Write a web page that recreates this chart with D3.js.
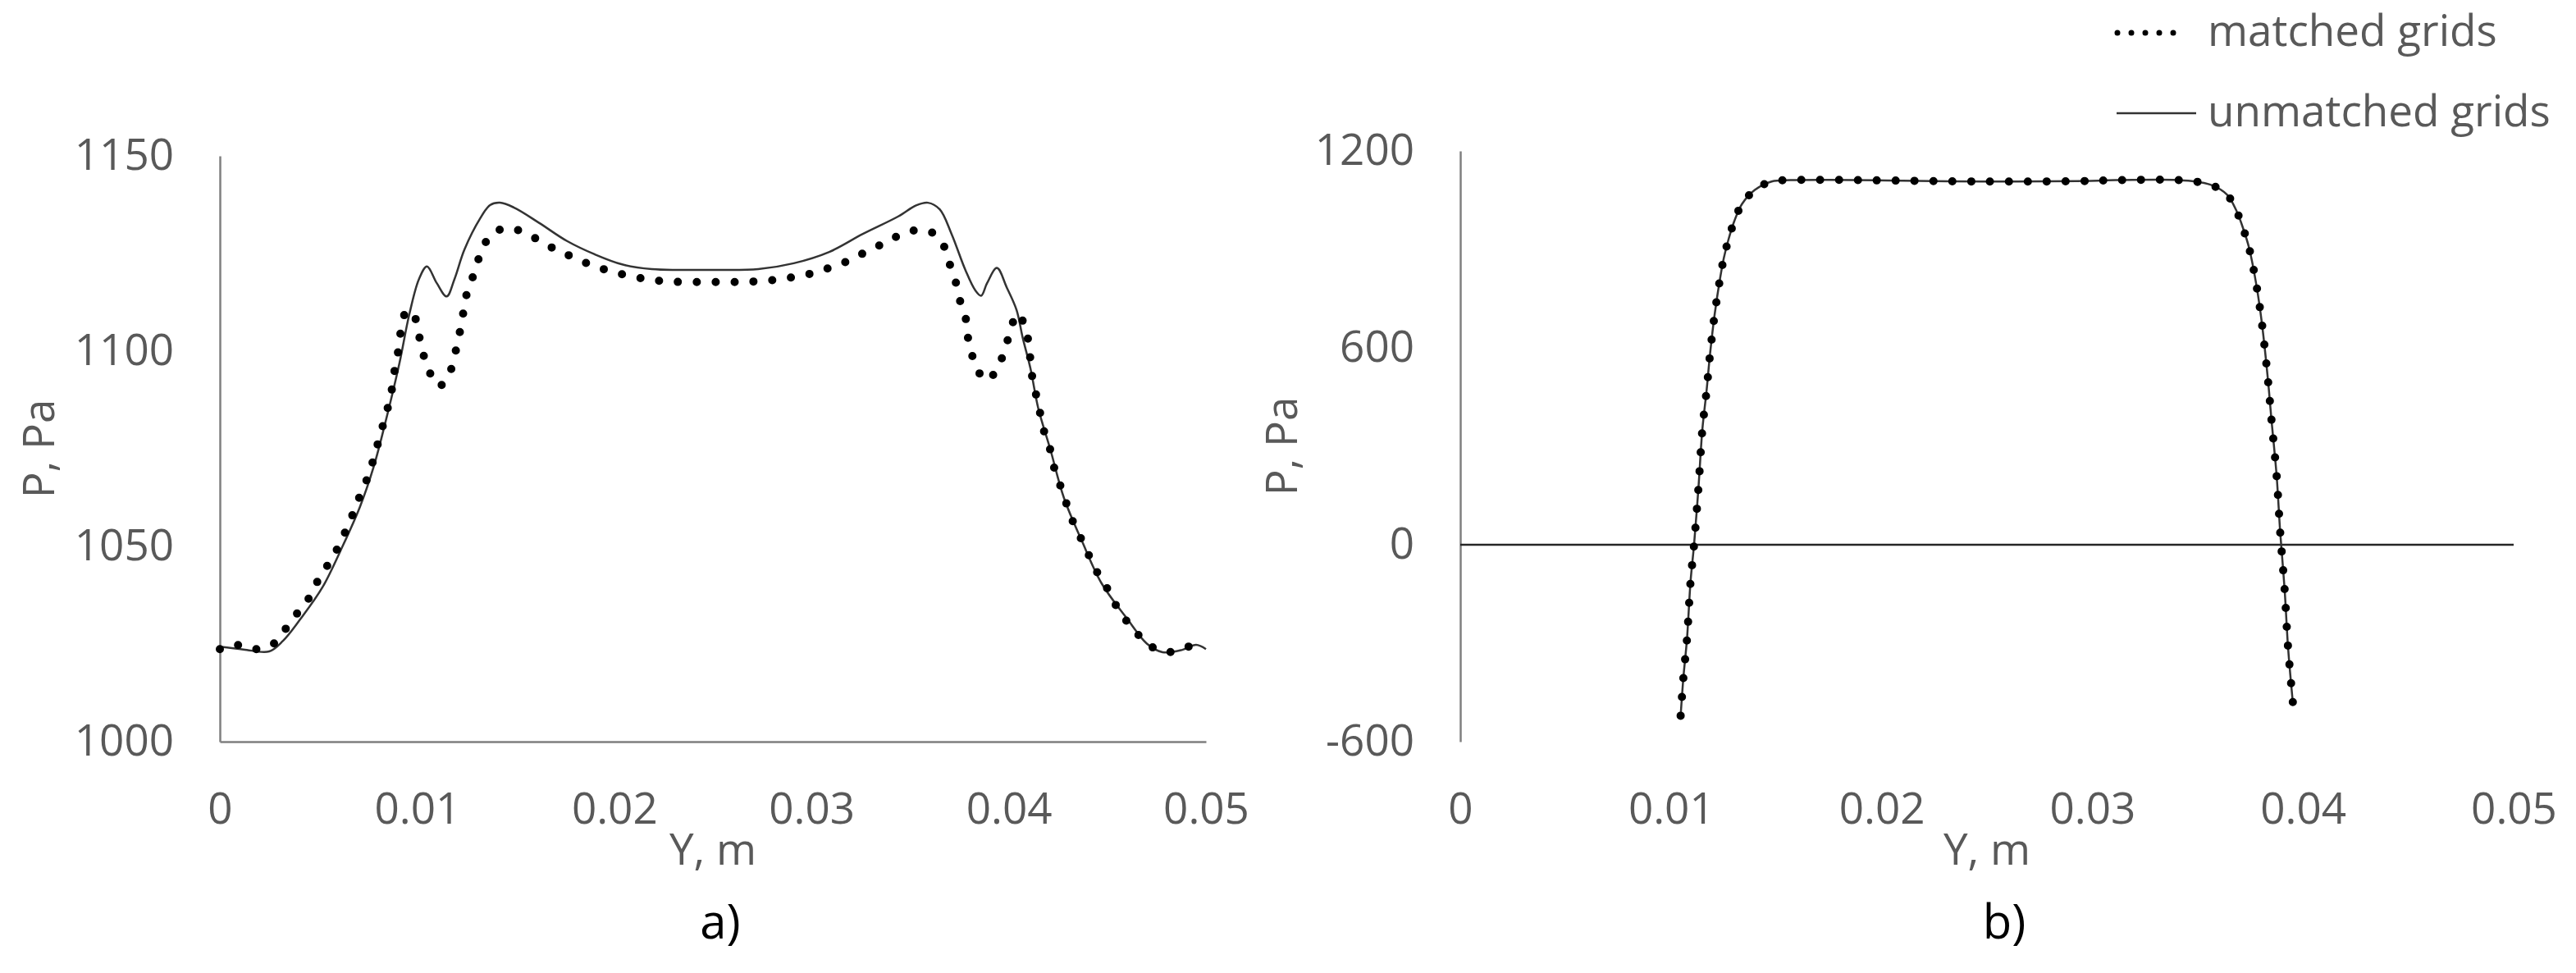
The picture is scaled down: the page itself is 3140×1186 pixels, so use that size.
<!DOCTYPE html>
<html lang="en">
<head>
    <meta charset="UTF-8">
    <title>Pressure profiles, matched vs unmatched grids</title>
    <script src="https://d3js.org/d3.v7.min.js"></script>
    <style>
        body { margin: 0; background: #fff; }
        text { font-family: "Open Sans", sans-serif; }
        .tick text, .ttl { fill: #595959; font-size: 53px; }
        .cap { fill: #000; font-size: 58px; }
    </style>
</head>
<body>
    <div id="chart"></div>

    <script>
        // chart a) - matched grids (dotted)
        const aMatchedY = [0, 0.0008, 0.0017, 0.0026, 0.0032, 0.0038, 0.0044, 0.0048, 0.0053, 0.0058,
            0.0062, 0.0066, 0.0069, 0.0073, 0.0076, 0.0079, 0.0081, 0.0084, 0.0086, 0.0088,
            0.0089, 0.0091, 0.0092, 0.0095, 0.0099, 0.0101, 0.0103, 0.0106, 0.0111, 0.0116,
            0.0119, 0.0121, 0.0123, 0.0124, 0.0127, 0.0130, 0.0133, 0.0138, 0.0146, 0.0155,
            0.0164, 0.0172, 0.0180, 0.0189, 0.0198, 0.0207, 0.0216, 0.0225, 0.0235, 0.0250,
            0.0263, 0.0273, 0.0282, 0.0291, 0.0300, 0.0309, 0.0318, 0.0326, 0.0335, 0.0343,
            0.0352, 0.0361, 0.0367, 0.0370, 0.0373, 0.0375, 0.0378, 0.0379, 0.0381, 0.0384,
            0.0389, 0.0395, 0.0398, 0.0401, 0.0404, 0.0408, 0.0410, 0.0411, 0.0412, 0.0414,
            0.0416, 0.0418, 0.0421, 0.0423, 0.0426, 0.0429, 0.0432, 0.0436, 0.0440, 0.0444,
            0.0449, 0.0453, 0.0458, 0.0464, 0.0471, 0.0479, 0.0488, 0.0497];
        const aMatchedP = [1023.7, 1024.8, 1023.7, 1024.6, 1028.0, 1032.1, 1035.8, 1039.7, 1043.9, 1047.9,
            1052.1, 1056.3, 1060.7, 1065.0, 1069.5, 1073.9, 1078.4, 1083.0, 1087.6, 1092.2,
            1096.8, 1101.3, 1106.1, 1110.5, 1108.5, 1104.0, 1099.5, 1095.0, 1091.0, 1093.8,
            1098.8, 1103.4, 1108.0, 1112.6, 1117.1, 1121.7, 1126.1, 1130.0, 1131.5, 1130.2,
            1127.7, 1125.6, 1123.9, 1121.9, 1120.5, 1119.3, 1118.5, 1117.9, 1117.7, 1117.7,
            1117.7, 1117.9, 1118.3, 1119.0, 1119.9, 1121.3, 1123.0, 1125.0, 1127.2, 1129.3,
            1130.9, 1130.4, 1127.0, 1122.4, 1117.9, 1113.4, 1108.9, 1104.4, 1099.8, 1095.3,
            1092.5, 1096.4, 1100.6, 1105.2, 1109.6, 1106.8, 1102.3, 1097.7, 1093.1, 1088.5,
            1083.9, 1079.3, 1074.8, 1070.2, 1065.8, 1061.3, 1057.0, 1052.7, 1048.4, 1044.1,
            1040.1, 1036.1, 1032.1, 1028.3, 1024.8, 1022.9, 1023.8, 1025.5];

        // chart a) - unmatched grids (solid)
        const aUnmatchedY = [0, 0.0012, 0.0025, 0.0032, 0.0041, 0.0052, 0.0062, 0.0071, 0.0078, 0.0084,
            0.0091, 0.0096, 0.0101, 0.0105, 0.0110, 0.0115, 0.0119, 0.0124, 0.0132, 0.0137,
            0.0142, 0.0149, 0.0162, 0.0176, 0.0190, 0.0204, 0.0219, 0.0233, 0.0250, 0.0273,
            0.0291, 0.0309, 0.0326, 0.0344, 0.0353, 0.0359, 0.0365, 0.0371, 0.0378, 0.0383,
            0.0386, 0.0389, 0.0394, 0.0399, 0.0404, 0.0407, 0.0411, 0.0415, 0.0421, 0.0428,
            0.0437, 0.0447, 0.0460, 0.0470, 0.0478, 0.0488, 0.0495, 0.0500];
        const aUnmatchedP = [1024.3, 1023.6, 1023.1, 1025.8, 1031.5, 1039.5, 1049.8, 1060.1, 1070.4, 1081.9,
            1096.8, 1109.3, 1118.5, 1121.7, 1117.4, 1114.0, 1118.5, 1126.0, 1134.0, 1137.4,
            1138.0, 1136.8, 1132.8, 1128.2, 1124.8, 1122.2, 1121.0, 1120.8, 1120.8, 1121.0,
            1122.5, 1125.4, 1130.0, 1134.5, 1137.3, 1138.0, 1136.3, 1130.0, 1120.8, 1115.6,
            1114.2, 1117.4, 1121.3, 1116.3, 1110.5, 1103.6, 1095.6, 1085.3, 1075.0, 1062.4,
            1051.5, 1040.6, 1031.5, 1025.1, 1022.9, 1023.5, 1024.8, 1023.7];

        // chart b) - both grids give the same curve
        const bY = [0.01046, 0.01059, 0.01076, 0.01093, 0.0111, 0.01131, 0.01149, 0.01169, 0.01186, 0.01207,
            0.01234, 0.01251, 0.01273, 0.0130, 0.01337, 0.01398, 0.01478, 0.01568, 0.01754, 0.02025,
            0.0248, 0.02929, 0.03111, 0.03383, 0.03474, 0.03561, 0.03639, 0.03686, 0.03718, 0.03744,
            0.03779, 0.03805, 0.03834, 0.0385, 0.03875, 0.03892, 0.03913, 0.03929, 0.03953];
        const bP = [-521, -405, -288, -112, 3, 178, 351, 469, 584, 700,
            815, 874, 930, 985, 1038, 1081, 1107, 1111, 1112, 1110,
            1107, 1108, 1111, 1112, 1108, 1097, 1067, 1015, 960, 905,
            791, 675, 501, 384, 210, 37, -137, -311, -488];

        const xTicks = [0, 0.01, 0.02, 0.03, 0.04, 0.05];
        const aYTicks = [1000, 1050, 1100, 1150];
        const bYTicks = [-600, 0, 600, 1200];
        const legendNames = ["matched grids", "unmatched grids"];

        const W = 3140, H = 1186;
        const svg = d3.select("#chart").append("svg")
            .attr("width", W)
            .attr("height", H)
            .style("background", "#fff");

        const axisColor = "#7f7f7f";
        const lineColor = "#333";
        const fmt = d3.format("~g");
        const plain = d => String(d);   // no thousands comma, plain hyphen minus
        const curve = d3.curveCatmullRom.alpha(0.5);

        function zip(xs, ys) { return xs.map((x, i) => [x, ys[i]]); }

        function dotted(g, pts, x, y) {
            g.append("path")
                .datum(pts)
                .attr("fill", "none")
                .attr("stroke", "#000")
                .attr("stroke-width", 10)
                .attr("stroke-linecap", "round")
                .attr("stroke-dasharray", "0 23")
                .attr("d", d3.line().x(d => x(d[0])).y(d => y(d[1])).curve(curve));
        }

        function solid(g, pts, x, y) {
            g.append("path")
                .datum(pts)
                .attr("fill", "none")
                .attr("stroke", lineColor)
                .attr("stroke-width", 2.5)
                .attr("d", d3.line().x(d => x(d[0])).y(d => y(d[1])).curve(curve));
        }

        function styleAxis(g) {
            g.select(".domain").attr("stroke", axisColor).attr("stroke-width", 2.5);
            g.selectAll(".tick line").remove();
            g.selectAll(".tick text").attr("font-family", null).attr("font-size", null);
        }

        // ---------- chart a ----------
        const ax = d3.scaleLinear().domain([0, 0.05]).range([268, 1470]);
        const ay = d3.scaleLinear().domain([1000, 1150]).range([904, 190]);

        svg.append("g")
            .attr("transform", "translate(0," + ay(1000) + ")")
            .call(d3.axisBottom(ax).tickValues(xTicks).tickFormat(fmt).tickSize(0).tickPadding(62))
            .call(styleAxis);
        svg.append("g")
            .attr("transform", "translate(" + ax(0) + ",0)")
            .call(d3.axisLeft(ay).tickValues(aYTicks).tickFormat(plain).tickSize(0).tickPadding(56))
            .call(styleAxis);

        const ga = svg.append("g");
        solid(ga, zip(aUnmatchedY, aUnmatchedP), ax, ay);
        dotted(ga, zip(aMatchedY, aMatchedP), ax, ay);

        svg.append("text").attr("class", "ttl")
            .attr("x", (ax(0) + ax(0.05)) / 2).attr("y", 1035).attr("dy", "0.35em")
            .attr("text-anchor", "middle").text("Y, m");
        svg.append("text").attr("class", "ttl")
            .attr("transform", "translate(47," + (ay(1000) + ay(1150)) / 2 + ") rotate(-90)")
            .attr("dy", "0.35em").attr("text-anchor", "middle").text("P, Pa");
        svg.append("text").attr("class", "cap")
            .attr("x", 878).attr("y", 1124).attr("dy", "0.35em")
            .attr("text-anchor", "middle").text("a)");

        // ---------- chart b ----------
        const bx = d3.scaleLinear().domain([0, 0.05]).range([1780, 3064]);
        const by = d3.scaleLinear().domain([-600, 1200]).range([904, 184]);

        const bxAxis = svg.append("g")
            .attr("transform", "translate(0," + by(-600) + ")")
            .call(d3.axisBottom(bx).tickValues(xTicks).tickFormat(fmt).tickSize(0).tickPadding(62))
            .call(styleAxis);
        bxAxis.select(".domain").remove();
        svg.append("g")
            .attr("transform", "translate(" + bx(0) + ",0)")
            .call(d3.axisLeft(by).tickValues(bYTicks).tickFormat(plain).tickSize(0).tickPadding(56))
            .call(styleAxis);
        // zero line acts as the horizontal axis
        svg.append("line")
            .attr("x1", bx(0)).attr("x2", bx(0.05))
            .attr("y1", by(0)).attr("y2", by(0))
            .attr("stroke", "#262626").attr("stroke-width", 2.5);

        const gb = svg.append("g");
        const bPts = zip(bY, bP);
        solid(gb, bPts, bx, by);
        dotted(gb, bPts, bx, by);

        svg.append("text").attr("class", "ttl")
            .attr("x", (bx(0) + bx(0.05)) / 2).attr("y", 1035).attr("dy", "0.35em")
            .attr("text-anchor", "middle").text("Y, m");
        svg.append("text").attr("class", "ttl")
            .attr("transform", "translate(1562," + (by(-600) + by(1200)) / 2 + ") rotate(-90)")
            .attr("dy", "0.35em").attr("text-anchor", "middle").text("P, Pa");
        svg.append("text").attr("class", "cap")
            .attr("x", 2443).attr("y", 1124).attr("dy", "0.35em")
            .attr("text-anchor", "middle").text("b)");

        // ---------- legend ----------
        const leg = svg.append("g");
        leg.append("line")
            .attr("x1", 2581).attr("x2", 2666).attr("y1", 40).attr("y2", 40)
            .attr("stroke", "#000").attr("stroke-width", 7)
            .attr("stroke-linecap", "round").attr("stroke-dasharray", "0 17");
        leg.append("line")
            .attr("x1", 2580).attr("x2", 2677).attr("y1", 138).attr("y2", 138)
            .attr("stroke", lineColor).attr("stroke-width", 2.5);
        leg.selectAll("text.leg")
            .data(legendNames)
            .enter()
            .append("text")
            .attr("class", "ttl leg")
            .attr("x", 2691)
            .attr("y", (d, i) => i === 0 ? 40 : 138)
            .attr("dy", "0.3em")
            .text(d => d);
    </script>
</body>
</html>
